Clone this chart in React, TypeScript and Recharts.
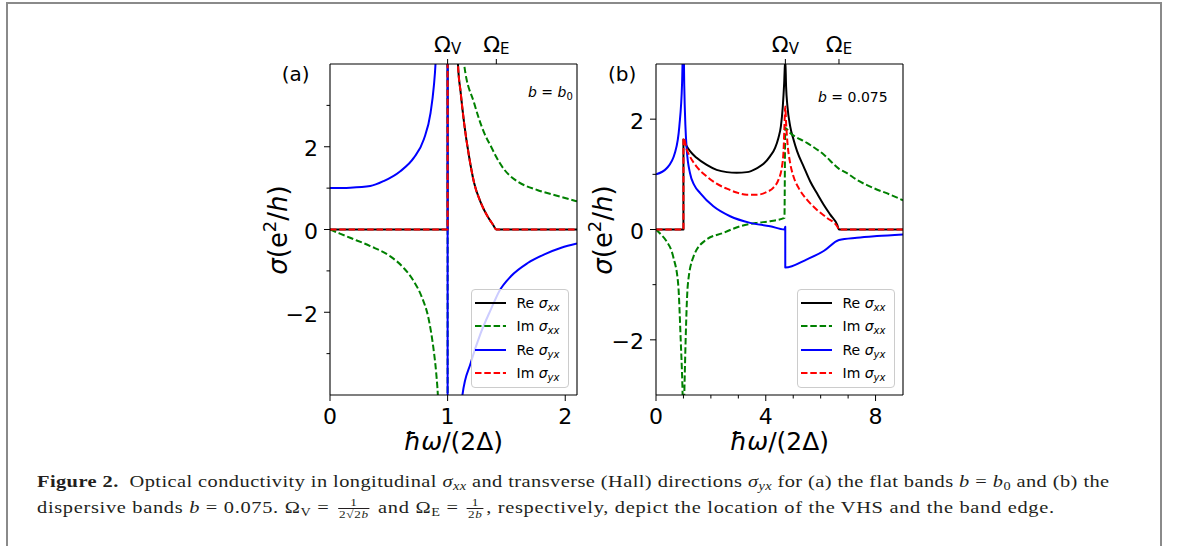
import React from "react";
import { LineChart, Line, XAxis, YAxis, Legend } from "recharts";

type Pt = [number, number];

// (a) flat bands b = b0, x = ħω/(2Δ), y = σ in e²/h
const reSxxA: Pt[] = [
  [0, 0], [1, 0], [1, 40], [1.088, 4.0], [1.111, 3.31], [1.14, 2.58], [1.182, 1.77],
  [1.225, 1.13], [1.282, 0.65], [1.339, 0.32], [1.385, 0.12], [1.414, 0], [2.1, 0],
];
const imSxxA: Pt[] = [
  [0, 0], [0.171, -0.2], [0.342, -0.4], [0.513, -0.65], [0.627, -0.93], [0.712, -1.25],
  [0.783, -1.65], [0.84, -2.18], [0.877, -2.82], [0.903, -3.47], [0.917, -4.0], [0.98, -12],
  [1, -40], [1, 40], [1.05, 14], [1.14, 4.0], [1.225, 3.06], [1.31, 2.34], [1.37, 2.0],
  [1.414, 1.75], [1.481, 1.45], [1.55, 1.25], [1.6, 1.15], [1.767, 0.95], [1.937, 0.81], [2.1, 0.68],
];
const reSyxA: Pt[] = [
  [0, 1.0], [0.171, 1.01], [0.342, 1.05], [0.456, 1.17], [0.598, 1.41], [0.712, 1.73],
  [0.798, 2.18], [0.855, 2.82], [0.883, 3.47], [0.897, 4.0], [0.97, 15], [1, 40], [1, -40],
  [1.05, -12], [1.126, -4.0], [1.197, -3.22], [1.282, -2.5], [1.368, -1.93], [1.439, -1.49],
  [1.538, -1.13], [1.681, -0.81], [1.823, -0.6], [1.966, -0.44], [2.1, -0.34],
];
const imSyxA: Pt[] = [
  [0, 0], [1, 0], [1, 40], [1.088, 4.0], [1.111, 3.31], [1.14, 2.58], [1.182, 1.77],
  [1.225, 1.13], [1.282, 0.65], [1.339, 0.32], [1.385, 0.12], [1.414, 0], [2.1, 0],
];

// (b) dispersive bands b = 0.075
const reSxxB: Pt[] = [
  [0, 0], [1, 0], [1, 1.63], [1.12, 1.51], [1.24, 1.42], [1.48, 1.3], [1.85, 1.17], [2.21, 1.08],
  [2.58, 1.04], [2.94, 1.03], [3.31, 1.04], [3.67, 1.11], [3.92, 1.19], [4.16, 1.33], [4.34, 1.48],
  [4.46, 1.66], [4.55, 1.87], [4.62, 2.23], [4.67, 2.65], [4.71, 3.1], [4.74, 2.59], [4.79, 2.23],
  [4.89, 1.87], [5.01, 1.63], [5.14, 1.42], [5.38, 1.14], [5.62, 0.87], [5.86, 0.66], [6.11, 0.45],
  [6.35, 0.27], [6.6, 0.09], [6.67, 0], [9, 0],
];
const imSxxB: Pt[] = [
  [0, 0], [0.2, -0.1], [0.365, -0.2], [0.63, -0.5], [0.81, -1.0], [0.9, -2.0], [0.96, -2.8],
  [1.0, -3.6], [1.04, -2.8], [1.08, -2.0], [1.16, -1.0], [1.36, -0.5], [1.79, -0.2], [2.46, -0.06],
  [3.07, 0.06], [3.67, 0.12], [4.16, 0.15], [4.68, 0.21], [4.71, 1.84], [4.89, 1.75], [5.5, 1.57],
  [6.11, 1.36], [6.67, 1.1], [6.96, 1.02], [7.32, 0.9], [7.93, 0.75], [8.54, 0.63], [9, 0.53],
];
const reSyxB: Pt[] = [
  [0, 1.0], [0.39, 1.11], [0.69, 1.39], [0.85, 1.87], [0.95, 2.65], [1.0, 3.6], [1.03, 2.6],
  [1.07, 1.9], [1.12, 1.45], [1.24, 1.02], [1.4, 0.8], [1.61, 0.66], [2.09, 0.42], [2.7, 0.24],
  [3.43, 0.12], [4.16, 0.06], [4.68, 0.0], [4.71, 0.05], [4.71, -0.69], [5.5, -0.54], [6.11, -0.39],
  [6.67, -0.19], [7.32, -0.15], [8.05, -0.12], [9, -0.09],
];
const imSyxB: Pt[] = [
  [0, 0], [1, 0], [1, 1.66], [1.12, 1.45], [1.24, 1.32], [1.48, 1.14], [1.85, 0.96], [2.21, 0.83],
  [2.58, 0.74], [2.94, 0.67], [3.31, 0.63], [3.67, 0.63], [4.04, 0.68], [4.28, 0.76], [4.46, 0.9],
  [4.59, 1.14], [4.65, 1.45], [4.68, 1.87], [4.71, 2.23], [4.74, 1.93], [4.79, 1.57], [4.89, 1.2],
  [5.01, 0.96], [5.2, 0.75], [5.5, 0.54], [5.86, 0.36], [6.23, 0.21], [6.6, 0.06], [6.67, 0], [9, 0],
];

// ticks
const xTicksA = [0, 1, 2];
const xMajorA = [0, 1, 2];
const xTicksB = [0, 1, 2, 3, 4, 5, 6, 7, 8];
const xMajorB = [0, 4, 8];
const yTicksA = [-3, -2, -1, 0, 1, 2, 3];
const yTicksB = [-2, -1, 0, 1, 2];
const yMajor = [-2, 0, 2];
const omegaA = [1, 1.414]; // Ω_V, Ω_E for b = b0
const omegaB = [4.714, 6.667]; // Ω_V, Ω_E for b = 0.075
const omegaSubs = ["V", "E"];

const seriesNames = ["Re σxx", "Im σxx", "Re σyx", "Im σyx"];
const legendParts: [string, string][] = [["Re", "xx"], ["Im", "xx"], ["Re", "yx"], ["Im", "yx"]];
const colors = ["#000000", "#008000", "#0000ff", "#ff0000"];
const dashed = [false, true, false, true];

const FONT = "'DejaVu Sans', sans-serif";
const SERIF = "'Liberation Serif', 'Times New Roman', serif";
const DASH = "6.5 2.8";

const fmt = (v: number) => (v < 0 ? "\u2212" + Math.abs(v) : String(v));
const toPts = (s: Pt[]) => s.map(([x, y]) => ({ x, y }));

const LegendBox = () => (
  <div
    style={{
      width: 98,
      height: 99,
      boxSizing: "border-box",
      background: "rgba(255,255,255,0.8)",
      border: "1px solid #cccccc",
      borderRadius: 4,
      paddingTop: 1.5,
      fontFamily: FONT,
      fontSize: 14,
      color: "#000",
    }}
  >
    {legendParts.map(([pre, sub], i) => (
      <div key={i} style={{ height: 23.3, display: "flex", alignItems: "center" }}>
        <svg width={31} height={6} style={{ marginLeft: 3, flex: "none" }}>
          <line x1={0} x2={31} y1={3} y2={3} stroke={colors[i]} strokeWidth={2}
            strokeDasharray={dashed[i] ? DASH : undefined} />
        </svg>
        <span style={{ marginLeft: 10.5, whiteSpace: "nowrap" }}>
          {pre} <i>σ</i>
          <sub style={{ fontSize: "0.72em", fontStyle: "italic", verticalAlign: "-0.3em", lineHeight: 0 }}>{sub}</sub>
        </span>
      </div>
    ))}
  </div>
);

type PanelProps = {
  left: number;
  series: Pt[][];
  xDomain: [number, number];
  xTicks: number[];
  xMajor: number[];
  yDomain: [number, number];
  yTicks: number[];
  omega: number[];
};

const Panel = ({ left, series, xDomain, xTicks, xMajor, yDomain, yTicks, omega }: PanelProps) => {
  const leftTick = (p: any) => {
    const v = p.payload.value;
    const major = yMajor.includes(v);
    const len = major ? 6 : 3.5;
    return (
      <g>
        <line x1={p.x - len} x2={p.x} y1={p.y} y2={p.y} stroke="#000" strokeWidth={1} />
        {major && (
          <text x={p.x - len - 6} y={p.y + 9.5} textAnchor="end" fontFamily={FONT} fontSize={22} fill="#000">
            {fmt(v)}
          </text>
        )}
      </g>
    );
  };
  const bottomTick = (p: any) => {
    const v = p.payload.value;
    const major = xMajor.includes(v);
    const len = major ? 6 : 3.5;
    return (
      <g>
        <line x1={p.x} x2={p.x} y1={p.y} y2={p.y + len} stroke="#000" strokeWidth={1} />
        {major && (
          <text x={p.x} y={p.y + 28.5} textAnchor="middle" fontFamily={FONT} fontSize={22} fill="#000">
            {fmt(v)}
          </text>
        )}
      </g>
    );
  };
  const topTick = (p: any) => {
    const idx = omega.indexOf(p.payload.value);
    return (
      <g>
        <line x1={p.x} x2={p.x} y1={p.y} y2={p.y - 5} stroke="#000" strokeWidth={1} />
        <text x={p.x} y={p.y - 12.3} textAnchor="middle" fontFamily={FONT} fontSize={22} fill="#000">
          Ω<tspan fontSize={15} dy={2}>{omegaSubs[idx]}</tspan>
        </text>
      </g>
    );
  };

  return (
    <div style={{ position: "absolute", left, top: 0, width: 370, height: 460 }}>
      <LineChart width={370} height={460} margin={{ top: 24, right: 22, bottom: 5, left: 0 }}>
        <XAxis xAxisId="bottom" dataKey="x" type="number" domain={xDomain} allowDataOverflow
          ticks={xTicks} interval={0} tickSize={0} tickMargin={0} tickLine={false}
          axisLine={{ stroke: "#000", strokeWidth: 1.1 }} tick={bottomTick} height={60} />
        <XAxis xAxisId="top" orientation="top" dataKey="x" type="number" domain={xDomain} allowDataOverflow
          ticks={omega} interval={0} tickSize={0} tickMargin={0} tickLine={false}
          axisLine={{ stroke: "#000", strokeWidth: 1.1 }} tick={topTick} height={40} />
        <YAxis yAxisId="left" type="number" domain={yDomain} allowDataOverflow
          ticks={yTicks} interval={0} tickSize={0} tickMargin={0} tickLine={false}
          axisLine={{ stroke: "#000", strokeWidth: 1.1 }} tick={leftTick} width={100} />
        <YAxis yAxisId="right" orientation="right" type="number" domain={yDomain} allowDataOverflow
          tick={false} tickLine={false} axisLine={{ stroke: "#000", strokeWidth: 1.1 }} width={1} />
        {series.map((s, i) => (
          <Line
            key={seriesNames[i]}
            name={seriesNames[i]}
            xAxisId="bottom"
            yAxisId="left"
            data={toPts(s)}
            dataKey="y"
            type="monotone"
            stroke={colors[i]}
            strokeWidth={2}
            strokeDasharray={dashed[i] ? DASH : undefined}
            strokeLinejoin="round"
            dot={false}
            activeDot={false}
            isAnimationActive={false}
          />
        ))}
        <Legend layout="vertical" align="center" verticalAlign="middle" content={() => <LegendBox />}
          wrapperStyle={{ left: 241, top: 289, width: 98, height: 99 }} />
      </LineChart>
    </div>
  );
};

const Sub = ({ children, italic }: { children: React.ReactNode; italic?: boolean }) => (
  <sub style={{ fontSize: "0.7em", verticalAlign: "-0.28em", lineHeight: 0, fontStyle: italic ? "italic" : "normal" }}>
    {children}
  </sub>
);

const Frac = ({ num, den }: { num: React.ReactNode; den: React.ReactNode }) => (
  <span style={{ display: "inline-flex", flexDirection: "column", alignItems: "center", verticalAlign: "6.5px",
    fontSize: 11, lineHeight: "11px", margin: "0 2px" }}>
    <span>{num}</span>
    <span style={{ borderTop: "1px solid #231f20", padding: "0 1px" }}>{den}</span>
  </span>
);

// the scanned caption type is wide, so the serif is stretched horizontally
const CAP_SCALE = 1.2;

const lineStyle: React.CSSProperties = {
  position: "absolute",
  left: 37,
  whiteSpace: "nowrap",
  lineHeight: "20px",
  fontFamily: SERIF,
  fontSize: 17,
  color: "#231f20",
  transform: `scaleX(${CAP_SCALE})`,
  transformOrigin: "0 0",
};

const Caption = () => (
  <>
    <div style={{ ...lineStyle, top: 472.25, letterSpacing: 0.36 }}>
      <b>Figure 2.</b><span style={{ marginLeft: 9 }} />Optical conductivity in longitudinal <i>σ</i><Sub italic>xx</Sub> and transverse (Hall) directions <i>σ</i><Sub italic>yx</Sub> for (a) the flat bands <i>b</i> = <i>b</i><Sub>0</Sub> and (b) the
    </div>
    <div style={{ ...lineStyle, top: 497.25, letterSpacing: 0.57 }}>
      dispersive bands <i>b</i> = 0.075. Ω<Sub>V</Sub> = <Frac num="1" den={<>2√2<i>b</i></>} /> and Ω<Sub>E</Sub> = <Frac num="1" den={<>2<i>b</i></>} />, respectively, depict the location of the VHS and the band edge.
    </div>
  </>
);

export default function App() {
  return (
    <div style={{ position: "absolute", left: 0, top: 0, width: 1179, height: 546, overflow: "hidden", background: "#fff" }}>
      <div style={{ position: "absolute", left: 6, top: 2, width: 1156, height: 544, boxSizing: "border-box",
        borderTop: "2px solid #8a8a8a", borderLeft: "2px solid #8a8a8a", borderRight: "2px solid #8a8a8a" }} />
      <Panel left={230} series={[reSxxA, imSxxA, reSyxA, imSyxA]} xDomain={[0, 2.1]} xTicks={xTicksA}
        xMajor={xMajorA} yDomain={[-4, 4]} yTicks={yTicksA} omega={omegaA} />
      <Panel left={556} series={[reSxxB, imSxxB, reSyxB, imSyxB]} xDomain={[0, 9]} xTicks={xTicksB}
        xMajor={xMajorB} yDomain={[-3, 3]} yTicks={yTicksB} omega={omegaB} />
      <svg width={1179} height={546} style={{ position: "absolute", left: 0, top: 0, pointerEvents: "none" }}>
        <g fontFamily={FONT} fill="#000">
          <text x={281.7} y={81} fontSize={20}>(a)</text>
          <text x={608} y={81} fontSize={20}>(b)</text>
          <text x={528} y={97} fontSize={14}>
            <tspan fontStyle="italic">b</tspan> = <tspan fontStyle="italic">b</tspan>
            <tspan fontSize={10} dy={3}>0</tspan>
          </text>
          <text x={818} y={102} fontSize={14}>
            <tspan fontStyle="italic">b</tspan> = 0.075
          </text>
          <text x={453.5} y={449.5} fontSize={25} textAnchor="middle">
            <tspan fontStyle="italic">ħω</tspan>/(2Δ)
          </text>
          <text x={779.5} y={449.5} fontSize={25} textAnchor="middle">
            <tspan fontStyle="italic">ħω</tspan>/(2Δ)
          </text>
          <text x={287} y={230} fontSize={26} textAnchor="middle" transform="rotate(-90 287 230)">
            <tspan fontStyle="italic">σ</tspan>(e<tspan fontSize={18} dy={-11}>2</tspan>
            <tspan dy={11}>/</tspan><tspan fontStyle="italic">h</tspan>)
          </text>
          <text x={612} y={230} fontSize={26} textAnchor="middle" transform="rotate(-90 612 230)">
            <tspan fontStyle="italic">σ</tspan>(e<tspan fontSize={18} dy={-11}>2</tspan>
            <tspan dy={11}>/</tspan><tspan fontStyle="italic">h</tspan>)
          </text>
        </g>
      </svg>
      <Caption />
    </div>
  );
}
